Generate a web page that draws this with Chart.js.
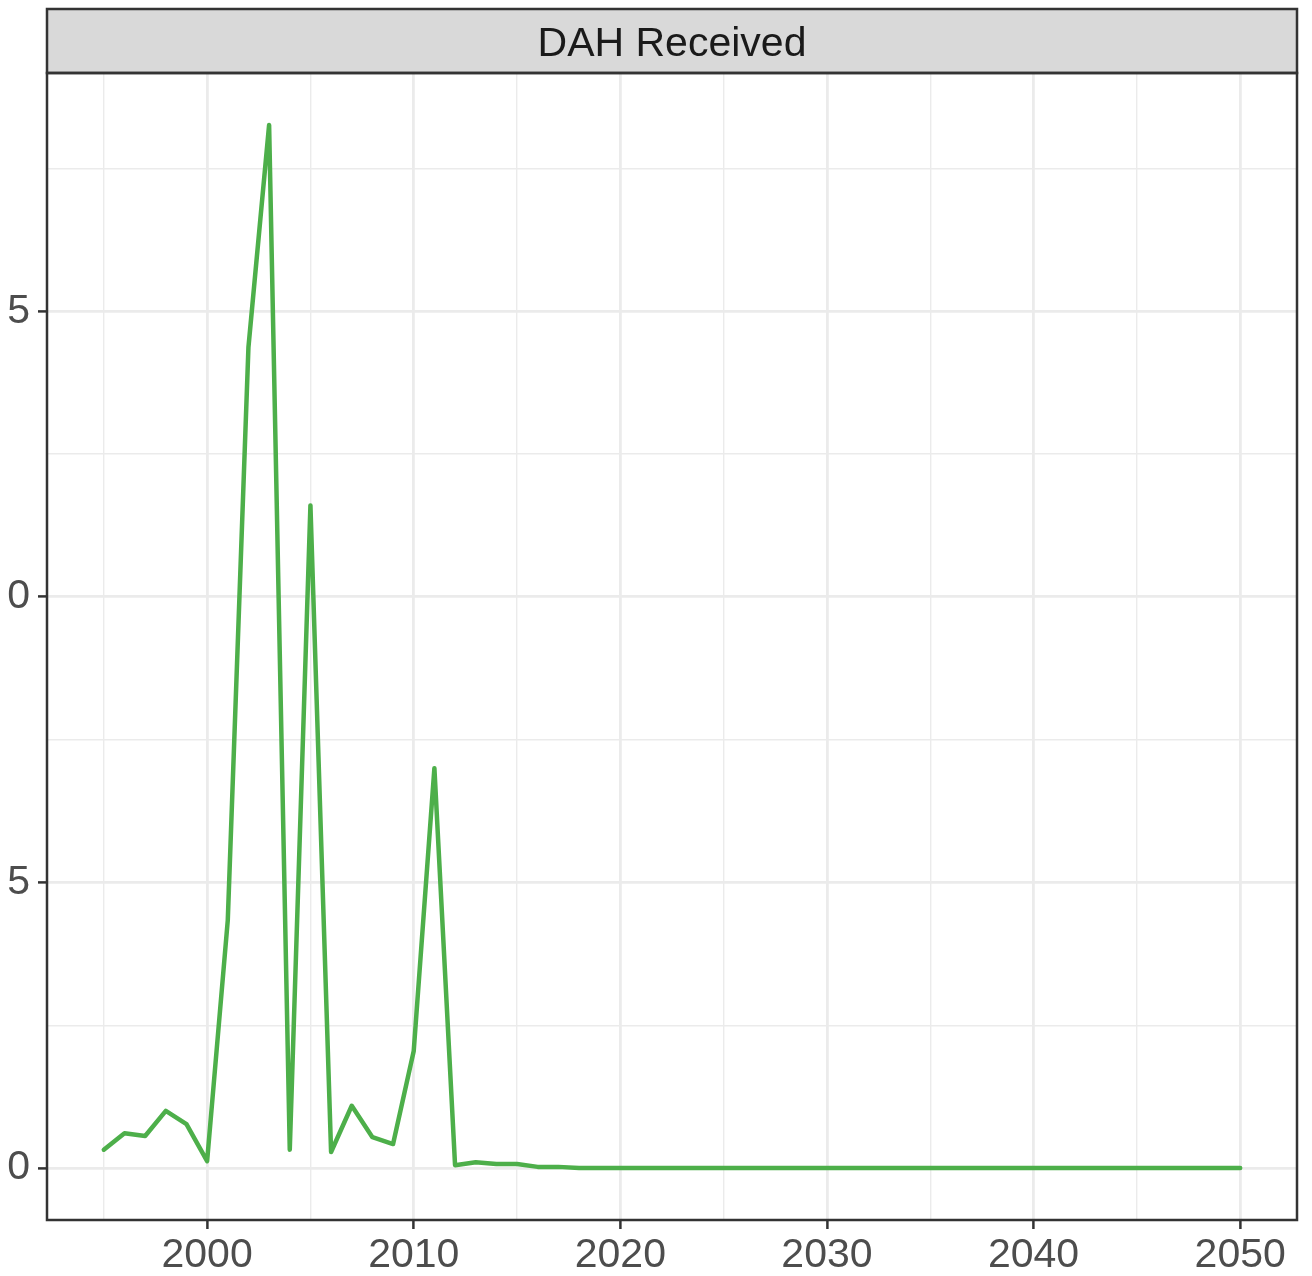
<!DOCTYPE html>
<html>
<head>
<meta charset="utf-8">
<script src="https://cdn.jsdelivr.net/npm/chart.js@4"></script>
<style>
  html, body { margin: 0; padding: 0; background: #fff; }
  #wrap { position: relative; width: 1312px; height: 1276px; overflow: hidden; }
  /* the reference crops the first digit of the y labels off the left edge */
  #myChart { position: absolute; left: -20px; top: 0; clip-path: inset(0 0 0 26px); }
</style>
</head>
<body>
<div id="wrap"><canvas id="myChart" width="1332" height="1276"></canvas></div>
<script>
var panelTitle = "DAH Received";
var years = [];
for (var yr = 1995; yr <= 2050; yr++) years.push(yr);
var dahValues = [
  0.32, 0.61, 0.56, 1.0, 0.77, 0.12, 4.34, 14.37, 18.26, 0.32,
  11.6, 0.28, 1.09, 0.54, 0.42, 2.05, 7.0, 0.05, 0.1, 0.07,
  0.07, 0.02, 0.02, 0, 0, 0, 0, 0, 0, 0,
  0, 0, 0, 0, 0, 0, 0, 0, 0, 0,
  0, 0, 0, 0, 0, 0, 0, 0, 0, 0,
  0, 0, 0, 0, 0, 0
];
var xTicks = [1995, 2000, 2005, 2010, 2015, 2020, 2025, 2030, 2035, 2040, 2045, 2050];
var yTicks = [0, 2.5, 5, 7.5, 10, 12.5, 15, 17.5];

var points = years.map(function (y, i) { return { x: y, y: dahValues[i] }; });

var isMajorX = function (v) { return v % 10 === 0; };
var isMajorY = function (v) { return v % 5 === 0; };
var tickFont = { size: 41, family: "'Liberation Sans', Arial, sans-serif" };

var stripPlugin = {
  id: "strip",
  afterDraw: function (chart) {
    var c = chart.ctx, a = chart.chartArea;
    c.save();
    c.fillStyle = "#D9D9D9";
    c.fillRect(a.left, 9, a.right - a.left, a.top - 9);
    c.strokeStyle = "#333333";
    c.lineWidth = 2.5;
    c.strokeRect(a.left, 9, a.right - a.left, a.top - 9);
    c.strokeRect(a.left, a.top, a.right - a.left, a.bottom - a.top);
    c.fillStyle = "#1A1A1A";
    c.font = "41px 'Liberation Sans', Arial, sans-serif";
    c.textAlign = "center";
    c.textBaseline = "middle";
    c.fillText(panelTitle, (a.left + a.right) / 2, 45);
    c.restore();
  }
};

var ctx1 = document.getElementById("myChart").getContext("2d");
var myChart1 = new Chart(ctx1, {
  type: "line",
  data: {
    datasets: [
      {
        label: panelTitle,
        data: points,
        borderColor: "#4DAF4A",
        borderWidth: 4.5,
        pointRadius: 0,
        tension: 0,
        fill: false,
        borderJoinStyle: "round",
        borderCapStyle: "round",
      },
    ],
  },
  options: {
    responsive: false,
    animation: false,
    devicePixelRatio: 1,
    layout: { padding: { top: 73, right: 15, left: 0, bottom: 0 } },
    plugins: { legend: { display: false }, tooltip: { enabled: false } },
    scales: {
      x: {
        type: "linear",
        min: 1992.25,
        max: 2052.75,
        afterBuildTicks: function (s) { s.ticks = xTicks.map(function (v) { return { value: v }; }); },
        afterFit: function (s) { s.height = 56; },
        border: { display: false },
        grid: {
          color: "#EBEBEB",
          lineWidth: function (c) { return isMajorX(c.tick.value) ? 2.8 : 1.4; },
          tickLength: 9,
          tickColor: function (c) { return isMajorX(c.tick.value) ? "#333333" : "rgba(0,0,0,0)"; },
          tickWidth: 2.5,
        },
        ticks: {
          autoSkip: false,
          maxRotation: 0,
          padding: 2,
          color: "#4D4D4D",
          font: tickFont,
          callback: function (v) { return isMajorX(v) ? String(v) : ""; },
        },
      },
      y: {
        type: "linear",
        min: -0.91,
        max: 19.17,
        afterBuildTicks: function (s) { s.ticks = yTicks.map(function (v) { return { value: v }; }); },
        afterFit: function (s) { s.width = 67; },
        border: { display: false },
        grid: {
          color: "#EBEBEB",
          lineWidth: function (c) { return isMajorY(c.tick.value) ? 2.8 : 1.4; },
          tickLength: 9,
          tickColor: function (c) { return isMajorY(c.tick.value) ? "#333333" : "rgba(0,0,0,0)"; },
          tickWidth: 2.5,
        },
        ticks: {
          autoSkip: false,
          padding: 8,
          color: "#4D4D4D",
          font: tickFont,
          callback: function (v) { return isMajorY(v) ? String(v) : ""; },
        },
      },
    },
  },
  plugins: [stripPlugin],
});
</script>
</body>
</html>
